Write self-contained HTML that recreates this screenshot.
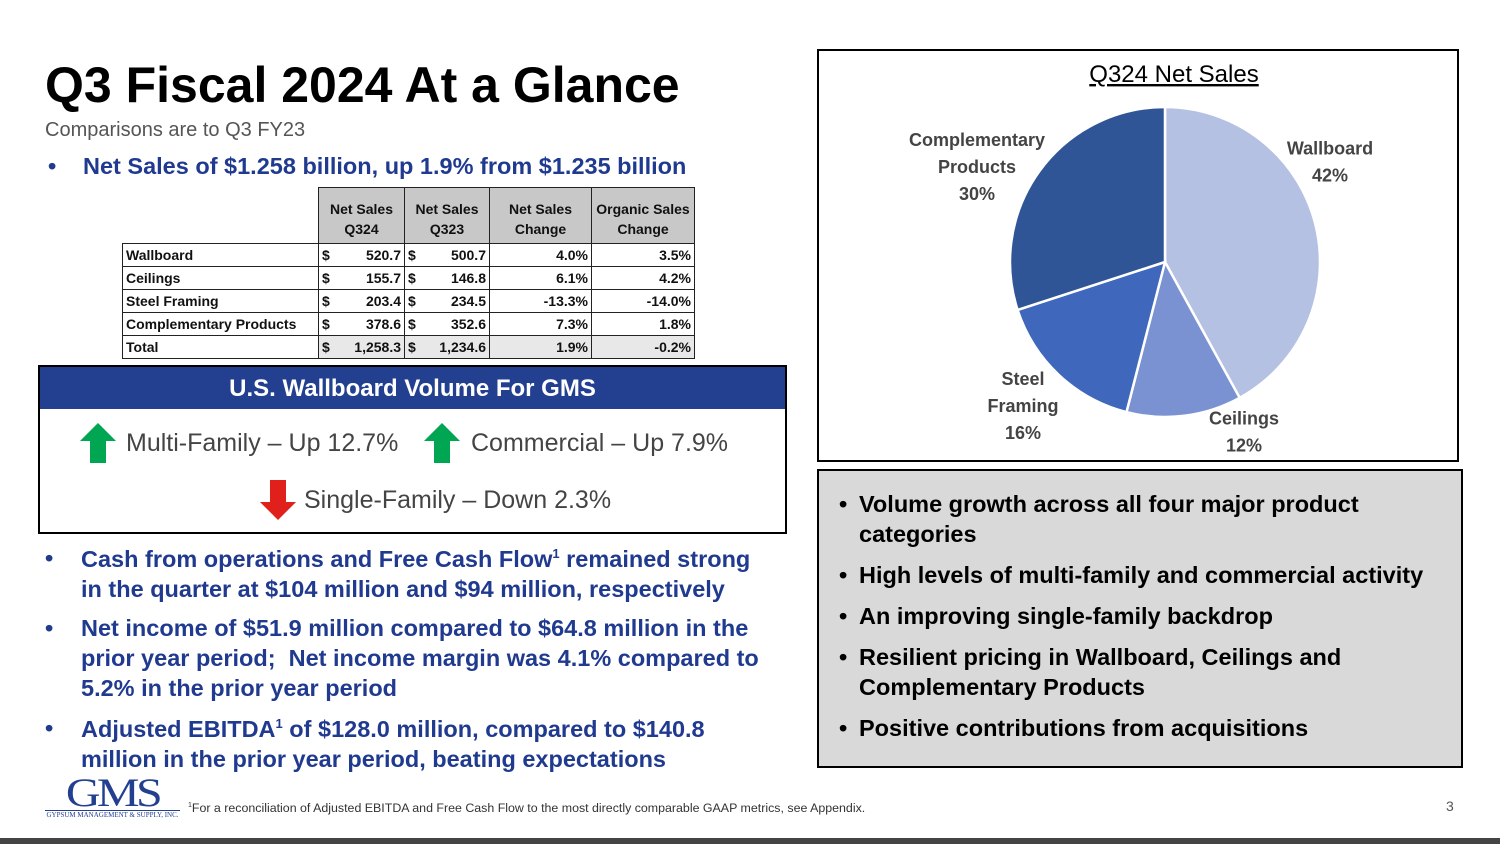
<!DOCTYPE html>
<html><head><meta charset="utf-8"><style>
*{margin:0;padding:0;box-sizing:border-box}
body{width:1500px;height:844px;background:#fff;position:relative;overflow:hidden;font-family:"Liberation Sans",Arial,sans-serif}
.abs{position:absolute}
.blue{color:#1f3a8f;font-weight:bold}
table{border-collapse:collapse;font-family:"Liberation Sans",sans-serif;font-size:14px;font-weight:bold;color:#111}
td{border:1px solid #222;height:23px;padding:0 3px;white-space:nowrap}
.hd td{background:#c8c8c8;text-align:center;height:28px;line-height:14px}
.g{background:#e8e8e8}
.bl{position:absolute;left:0;line-height:30px}
.bt{position:absolute;left:22px;line-height:30px}
</style></head><body>
<div class="abs" style="left:45px;top:56px;font-size:50px;font-weight:bold;color:#000">Q3 Fiscal 2024 At a Glance</div>
<div class="abs" style="left:45px;top:119px;font-size:20px;color:#555">Comparisons are to Q3 FY23</div>
<div class="abs blue" style="left:48px;top:153px;font-size:23.5px;white-space:nowrap">•<span style="position:absolute;left:35px">Net Sales of $1.258 billion, up 1.9% from $1.235 billion</span></div>

<table class="abs" style="left:122px;top:187px">
<tr class="hd"><td style="border:none;background:none;width:196px" rowspan="2"></td><td style="width:86px;border-bottom:none;vertical-align:bottom">Net Sales</td><td style="width:85px;border-bottom:none;vertical-align:bottom">Net Sales</td><td style="width:102px;border-bottom:none;vertical-align:bottom">Net Sales</td><td style="width:103px;border-bottom:none;vertical-align:bottom">Organic Sales</td></tr>
<tr class="hd"><td style="border-top:none">Q324</td><td style="border-top:none">Q323</td><td style="border-top:none">Change</td><td style="border-top:none">Change</td></tr>
<tr><td>Wallboard</td><td>$<span style="float:right">520.7</span></td><td>$<span style="float:right">500.7</span></td><td style="text-align:right">4.0%</td><td style="text-align:right">3.5%</td></tr>
<tr><td>Ceilings</td><td>$<span style="float:right">155.7</span></td><td>$<span style="float:right">146.8</span></td><td style="text-align:right">6.1%</td><td style="text-align:right">4.2%</td></tr>
<tr><td>Steel Framing</td><td>$<span style="float:right">203.4</span></td><td>$<span style="float:right">234.5</span></td><td style="text-align:right">-13.3%</td><td style="text-align:right">-14.0%</td></tr>
<tr><td>Complementary Products</td><td>$<span style="float:right">378.6</span></td><td>$<span style="float:right">352.6</span></td><td style="text-align:right">7.3%</td><td style="text-align:right">1.8%</td></tr>
<tr><td>Total</td><td class="g">$<span style="float:right">1,258.3</span></td><td class="g">$<span style="float:right">1,234.6</span></td><td class="g" style="text-align:right">1.9%</td><td class="g" style="text-align:right">-0.2%</td></tr>
</table>

<div class="abs" style="left:38px;top:365px;width:749px;height:169px;border:2px solid #000">
<div style="height:42px;background:#233f8f;color:#fff;font-size:24px;font-weight:bold;text-align:center;line-height:44px">U.S. Wallboard Volume For GMS</div>
<svg class="abs" style="left:40px;top:56px" width="36" height="40"><polygon points="18,0 36,18 26,18 26,40 10,40 10,18 0,18" fill="#00a651"/></svg>
<div class="abs" style="left:86px;top:62px;font-size:25px;color:#444">Multi-Family – Up 12.7%</div>
<svg class="abs" style="left:384px;top:56px" width="36" height="40"><polygon points="18,0 36,18 26,18 26,40 10,40 10,18 0,18" fill="#00a651"/></svg>
<div class="abs" style="left:431px;top:62px;font-size:25px;color:#444">Commercial – Up 7.9%</div>
<svg class="abs" style="left:220px;top:113px" width="36" height="40"><polygon points="10,0 26,0 26,22 36,22 18,40 0,22 10,22" fill="#e0201b"/></svg>
<div class="abs" style="left:264px;top:119px;font-size:25px;color:#444">Single-Family – Down 2.3%</div>
</div>

<div class="abs blue" style="left:45px;top:539px;width:740px;font-size:23.5px">
<div class="abs" style="top:0;left:0;width:740px"><span class="bl" style="top:4px">•</span><span class="bt" style="left:36px;white-space:nowrap">Cash from operations and Free Cash Flow<sup style="font-size:13px">1</sup> remained strong<br>in the quarter at $104 million and $94 million, respectively</span></div>
<div class="abs" style="top:74px;left:0;width:740px"><span class="bl">•</span><span class="bt" style="left:36px;white-space:nowrap">Net income of $51.9 million compared to $64.8 million in the<br>prior year period;&nbsp; Net income margin was 4.1% compared to<br>5.2% in the prior year period</span></div>
<div class="abs" style="top:170px;left:0;width:740px"><span class="bl" style="top:4px">•</span><span class="bt" style="left:36px;white-space:nowrap">Adjusted EBITDA<sup style="font-size:13px">1</sup> of $128.0 million, compared to $140.8<br>million in the prior year period, beating expectations</span></div>
</div>

<div class="abs" style="left:45px;top:777px;width:135px;text-align:center">
<div style="font-family:'Liberation Serif',serif;font-size:40px;color:#233f8f;line-height:32px;letter-spacing:-3px;transform:scaleX(1.2)">GMS</div>
<div style="border-top:1px solid #233f8f;font-family:'Liberation Serif',serif;font-size:7px;color:#233f8f;white-space:nowrap;margin-top:1px">GYPSUM MANAGEMENT &amp; SUPPLY, INC.</div></div>
<div class="abs" style="left:188px;top:801px;font-size:12.4px;color:#333"><sup style="font-size:7px">1</sup>For a reconciliation of Adjusted EBITDA and Free Cash Flow to the most directly comparable GAAP metrics, see Appendix.</div>
<div class="abs" style="left:1446px;top:798px;font-size:14px;color:#555">3</div>
<div class="abs" style="left:0;top:838px;width:1500px;height:6px;background:#444"></div>

<div class="abs" style="left:817px;top:49px;width:642px;height:413px;border:2px solid #000">
<svg id="pie" width="638" height="409" style="position:absolute;left:0;top:0"></svg>
</div>

<div class="abs" style="left:817px;top:469px;width:646px;height:299px;border:2px solid #000;background:#d9d9d9;font-size:23.5px;font-weight:bold;color:#000">
<div class="abs" style="left:20px;top:18px;width:600px"><span class="bl">•</span><span class="bt" style="left:20px;white-space:nowrap">Volume growth across all four major product<br>categories</span></div>
<div class="abs" style="left:20px;top:89px;width:620px"><span class="bl">•</span><span class="bt" style="left:20px;white-space:nowrap">High levels of multi-family and commercial activity</span></div>
<div class="abs" style="left:20px;top:130px;width:620px"><span class="bl">•</span><span class="bt" style="left:20px;white-space:nowrap">An improving single-family backdrop</span></div>
<div class="abs" style="left:20px;top:171px;width:620px"><span class="bl">•</span><span class="bt" style="left:20px;white-space:nowrap">Resilient pricing in Wallboard, Ceilings and<br>Complementary Products</span></div>
<div class="abs" style="left:20px;top:242px;width:620px"><span class="bl">•</span><span class="bt" style="left:20px;white-space:nowrap">Positive contributions from acquisitions</span></div>
</div>

<script>
const categories = ["Wallboard","Ceilings","Steel Framing","Complementary Products"];
const shares = [42,12,16,30];
const labelLines = [["Wallboard","42%"],["Ceilings","12%"],["Steel","Framing","16%"],["Complementary","Products","30%"]];
const colors = ["#b4c1e3","#7a92d1","#3f68bc","#2f5597"];
// label layout anchors (box-relative pixel positions, not data)
const labelAnchorX = [511, 425, 204, 158];
const labelAnchorY = [111, 381, 355, 116];
const svg = document.getElementById('pie');
const NS = "http://www.w3.org/2000/svg";
const cx = 346, cy = 211, r = 155;
const t = document.createElementNS(NS,'text');
t.setAttribute('x',355);t.setAttribute('y',31);t.setAttribute('text-anchor','middle');
t.setAttribute('font-size','24');t.setAttribute('text-decoration','underline');t.setAttribute('fill','#000');
t.setAttribute('font-family','Liberation Sans, sans-serif');t.textContent='Q324 Net Sales';


svg.appendChild(t);
const total = shares.reduce((a,b)=>a+b,0);
let acc = 0;
shares.forEach((v,i)=>{
  const a0 = acc/total*2*Math.PI, a1=(acc+v)/total*2*Math.PI; acc+=v;
  const p = (a)=>[cx+r*Math.sin(a), cy-r*Math.cos(a)];
  const [x0,y0]=p(a0),[x1,y1]=p(a1);
  const path=document.createElementNS(NS,'path');
  path.setAttribute('d',`M${cx},${cy} L${x0},${y0} A${r},${r} 0 ${a1-a0>Math.PI?1:0} 1 ${x1},${y1} Z`);
  path.setAttribute('fill',colors[i]);path.setAttribute('stroke','#fff');path.setAttribute('stroke-width','2.5');
  
  
  svg.appendChild(path);
});
labelLines.forEach((lines,i)=>{
  const lx=labelAnchorX[i], ly=labelAnchorY[i];
  const g=document.createElementNS(NS,'text');
  g.setAttribute('text-anchor','middle');g.setAttribute('font-size','18');g.setAttribute('font-weight','bold');
  g.setAttribute('fill','#444');g.setAttribute('font-family','Liberation Sans, sans-serif');
  
  
  lines.forEach((s,k)=>{const ts=document.createElementNS(NS,'tspan');ts.setAttribute('x',lx);ts.setAttribute('y',ly+(k-(lines.length-1)/2)*27+6);ts.textContent=(k===lines.length-1)?shares[i]+'%':s;g.appendChild(ts);});
  svg.appendChild(g);
});
</script>
</body></html>
